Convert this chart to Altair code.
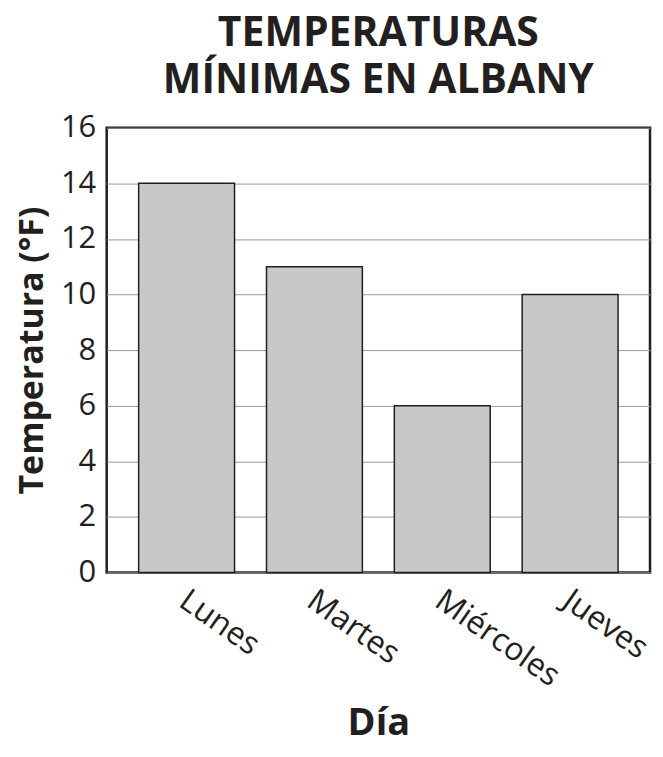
import altair as alt
import pandas as pd

dias = ["Lunes", "Martes", "Miércoles", "Jueves"]
temps = [14, 11, 6, 10]
y_ticks = [0, 2, 4, 6, 8, 10, 12, 14, 16]

df = pd.DataFrame({"Día": dias, "Temperatura": temps})

FONT = "Open Sans"
INK = "#231f20"

chart = alt.Chart(df).mark_bar(
    color="#c8c8ca", stroke=INK, strokeWidth=1.5
).encode(
    x=alt.X(
        "Día:N",
        sort=dias,
        scale=alt.Scale(paddingInner=0.25, paddingOuter=0.25),
        axis=alt.Axis(
            title="Día",
            labelAngle=35,
            labelAlign="left",
            labelBaseline="top",
            labelPadding=12,
            labelFontSize=32,
            labelFont=FONT,
            labelColor=INK,
            labelOffset=5,
            ticks=False,
            domain=False,
            titleFont=FONT,
            titleFontSize=38,
            titleFontWeight="bold",
            titleColor=INK,
            titleBaseline="alphabetic",
            titleY=163,
        ),
    ),
    y=alt.Y(
        "Temperatura:Q",
        scale=alt.Scale(domain=[0, 16], nice=False),
        axis=alt.Axis(
            title="Temperatura (°F)",
            values=y_ticks,
            labelFontSize=31,
            labelFont=FONT,
            labelColor=INK,
            labelPadding=11,
            ticks=False,
            domain=False,
            grid=True,
            gridColor="#9a9a9a",
            gridWidth=1,
            titleFont=FONT,
            titleFontSize=34,
            titleFontWeight="bold",
            titleColor=INK,
            titlePadding=11,
        ),
    ),
).properties(
    width=545,
    height=446,
    title=alt.TitleParams(
        text=["TEMPERATURAS", "MÍNIMAS EN ALBANY"],
        font=FONT,
        fontSize=41,
        fontWeight="bold",
        color=INK,
        anchor="middle",
        lineHeight=47,
        offset=10,
    ),
    autosize=alt.AutoSizeParams(type="none"),
    padding={"left": 99, "top": 119, "right": 5, "bottom": 168},
    background="white",
).configure_view(
    stroke=INK, strokeWidth=2.5
)

chart.save("out.html", embed_options={"renderer": "svg", "actions": False})
